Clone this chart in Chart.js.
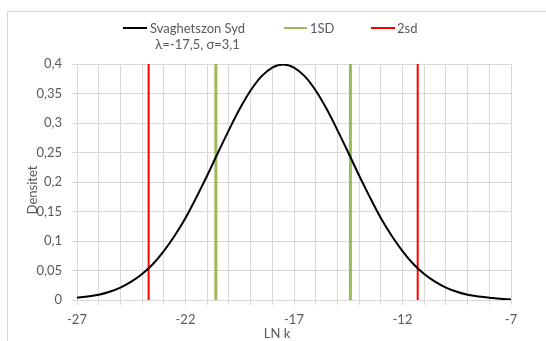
<!DOCTYPE html>
<html>
<head>
<meta charset="utf-8">
<script src="https://cdn.jsdelivr.net/npm/chart.js@4"></script>
<style>
  html, body { margin: 0; padding: 0; background: #fff; }
  #wrap { position: relative; width: 546px; height: 341px; overflow: hidden; font-family: Lato, sans-serif; font-size: 13px; color: #595959; }
  #frame { position: absolute; left: 7px; top: 11px; width: 600px; height: 400px; border: 1px solid #d9d9d9; }
  #chart { position: absolute; left: 0; top: 0; }
  .leg { position: absolute; white-space: nowrap; line-height: 16px; }
  .sw { position: absolute; height: 2px; }
</style>
</head>
<body>
<div id="wrap">
  <div id="frame"></div>
  <canvas id="chart" width="546" height="341"></canvas>
  <div class="sw" style="left:123px;top:27px;width:24px;background:#000"></div>
  <div class="leg" style="left:150px;top:20px;text-align:center">Svaghetszon Syd<br>λ=-17,5, σ=3,1</div>
  <div class="sw" style="left:284px;top:27px;width:23px;background:#9bbb59"></div>
  <div class="leg" style="left:310px;top:20px">1SD</div>
  <div class="sw" style="left:371px;top:27px;width:24px;background:#ff0000"></div>
  <div class="leg" style="left:397px;top:20px">2sd</div>
</div>
<script>
// LN k values and density
const lnK = [-27, -26.5, -26, -25.5, -25, -24.5, -24, -23.5, -23, -22.5, -22, -21.5, -21, -20.5, -20, -19.5, -19, -18.5, -18, -17.5,
             -17, -16.5, -16, -15.5, -15, -14.5, -14, -13.5, -13, -12.5, -12, -11.5, -11, -10.5, -10, -9.5, -9, -8.5, -8, -7.5, -7];
const density = [0.004, 0.006, 0.009, 0.014, 0.021, 0.031, 0.044, 0.061, 0.083, 0.109, 0.139, 0.174, 0.211, 0.250, 0.288, 0.324, 0.355, 0.379, 0.394, 0.399,
                 0.394, 0.379, 0.355, 0.324, 0.288, 0.250, 0.211, 0.174, 0.139, 0.109, 0.083, 0.061, 0.044, 0.031, 0.021, 0.014, 0.009, 0.006, 0.004, 0.002, 0.001];
const sd1Lines = [-20.6, -14.4];
const sd2Lines = [-23.7, -11.3];
const lineTop = 0.4;
const xTickLabels = [-27, -22, -17, -12, -7];

function verticals(xs) {
  const pts = [];
  xs.forEach(x => {
    pts.push({ x: x, y: 0 }, { x: x, y: lineTop }, { x: x, y: null });
  });
  return pts;
}

Chart.defaults.font.family = "Lato, sans-serif";
Chart.defaults.font.size = 13;
Chart.defaults.color = "#595959";

const axisTitles = {
  id: "axisTitles",
  afterDraw(chart) {
    const ctx = chart.ctx;
    ctx.save();
    ctx.font = "13px Lato, sans-serif";
    ctx.fillStyle = "#595959";
    ctx.textAlign = "center";
    ctx.textBaseline = "middle";
    ctx.fillText("LN k", 277, 334);
    ctx.translate(33, 190);
    ctx.rotate(-Math.PI / 2);
    ctx.fillText("Densitet", 0, 0);
    ctx.restore();
  }
};

new Chart(document.getElementById("chart"), {
  type: "line",
  data: {
    datasets: [
      {
        label: "Svaghetszon Syd",
        data: lnK.map((x, i) => ({ x: x, y: density[i] })),
        borderColor: "#000000",
        borderWidth: 2,
        pointRadius: 0,
        cubicInterpolationMode: "monotone"
      },
      {
        label: "1SD",
        data: verticals(sd1Lines),
        borderColor: "#9bbb59",
        borderWidth: 3,
        pointRadius: 0,
        spanGaps: false
      },
      {
        label: "2sd",
        data: verticals(sd2Lines),
        borderColor: "#ff0000",
        borderWidth: 2,
        pointRadius: 0,
        spanGaps: false
      }
    ]
  },
  options: {
    responsive: false,
    animation: false,
    layout: { padding: { left: 17, right: 35, top: 64, bottom: 0 } },
    plugins: { legend: { display: false }, tooltip: { enabled: false } },
    scales: {
      x: {
        type: "linear",
        min: -27,
        max: -7,
        afterFit: s => { s.height = 41; },
        grid: { color: "#d9d9d9", tickLength: 5 },
        border: { color: "#d9d9d9" },
        ticks: {
          stepSize: 1,
          autoSkip: false,
          maxRotation: 0,
          padding: 7,
          callback: v => xTickLabels.includes(Math.round(v)) ? String(Math.round(v)) : ""
        }
      },
      y: {
        min: 0,
        max: 0.4,
        afterFit: s => { s.width = 60; },
        grid: { color: "#d9d9d9", tickLength: 5 },
        border: { color: "#d9d9d9" },
        ticks: {
          stepSize: 0.05,
          padding: 10,
          callback: v => String(parseFloat(v.toFixed(2))).replace(".", ",")
        }
      }
    }
  },
  plugins: [axisTitles]
});
</script>
</body>
</html>
